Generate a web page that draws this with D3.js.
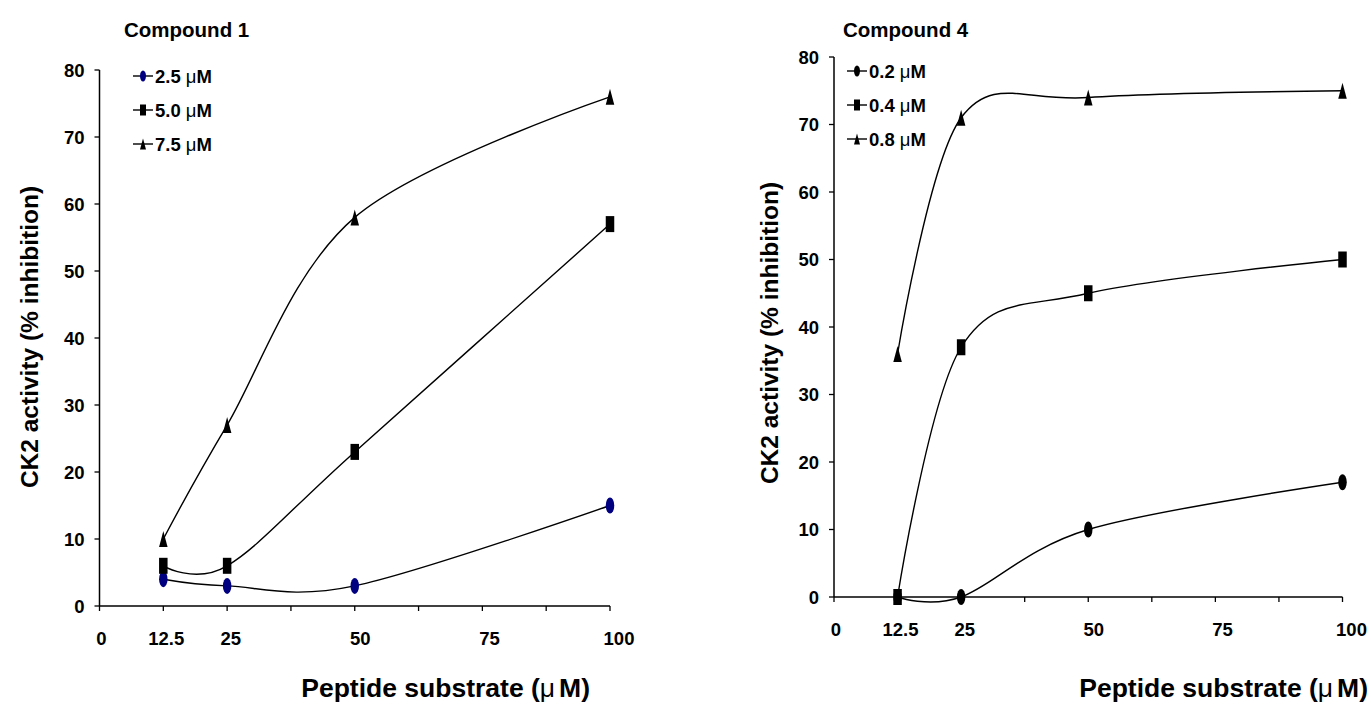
<html>
<head>
  <script src="https://d3js.org/d3.v7.min.js"></script>
  <meta charset="utf-8">
  <title>CK2 inhibition</title>
<style>
body {
  margin: 0;
  background: #fff;
}
svg {
  background: #fff;
  font-family: Arial, "Liberation Sans", sans-serif;
  font-weight: bold;
}
</style>
</head>
<body>
<script>
var width = 1371,
    height = 705;

// peptide substrate concentrations (uM)
var substrate = [12.5, 25, 50, 100];
var xTicks = [0, 12.5, 25, 37.5, 50, 62.5, 75, 87.5, 100];
var xTickLabels = [0, 12.5, 25, 50, 75, 100];
var yTicks = [0, 10, 20, 30, 40, 50, 60, 70, 80];

// compound 1, % inhibition
var c1Doses = ['2.5', '5.0', '7.5'];
var c1Dose25 = [4, 3, 3, 15];
var c1Dose50 = [6, 6, 23, 57];
var c1Dose75 = [10, 27, 58, 76];

// compound 4, % inhibition
var c4Doses = ['0.2', '0.4', '0.8'];
var c4Dose02 = [0, 0, 10, 17];
var c4Dose04 = [0, 37, 45, 50];
var c4Dose08 = [36, 71, 74, 75];

var svg = d3.select('body').append('svg')
  .attr('width', width)
  .attr('height', height);

// marker shapes, width w and height h
function marker(g, kind, w, h, color) {
  if (kind === 'ellipse') {
    g.append('ellipse').attr('rx', w / 2).attr('ry', h / 2).attr('fill', color);
  } else if (kind === 'square') {
    g.append('rect').attr('x', -w / 2).attr('y', -h / 2)
      .attr('width', w).attr('height', h).attr('fill', color);
  } else {
    g.append('path')
      .attr('d', 'M0,' + (-h / 2) + 'L' + (w / 2) + ',' + (h / 2) + 'L' + (-w / 2) + ',' + (h / 2) + 'Z')
      .attr('fill', color);
  }
}

function panel(p) {
  var x = d3.scaleLinear().domain([0, 100]).range([p.x0, p.x1]);
  // tick labels in the original sit slightly right of the ticks
  var xl = d3.scaleLinear().domain([0, 100]).range([p.x0 + 2, p.x1 + 9]);
  var y = d3.scaleLinear().domain([0, 80]).range([p.y0, p.y1]);
  var g = svg.append('g');

  // axes
  g.append('line').attr('x1', x(0)).attr('x2', x(0)).attr('y1', y(0)).attr('y2', y(80))
    .attr('stroke', '#000').attr('stroke-width', 1.5);
  g.append('line').attr('x1', x(0)).attr('x2', x(100)).attr('y1', y(0)).attr('y2', y(0))
    .attr('stroke', '#000').attr('stroke-width', 1.5);

  g.selectAll('.yt').data(yTicks).enter().append('line')
    .attr('x1', x(0) - 5).attr('x2', x(0))
    .attr('y1', function (d) { return y(d); })
    .attr('y2', function (d) { return y(d); })
    .attr('stroke', '#000').attr('stroke-width', 1.3);
  g.selectAll('.ytl').data(yTicks).enter().append('text')
    .attr('x', x(0) - 15)
    .attr('y', function (d) { return y(d); })
    .attr('dy', '0.36em')
    .attr('text-anchor', 'end')
    .style('font-size', '18.5px')
    .text(function (d) { return d; });

  g.selectAll('.xt').data(xTicks).enter().append('line')
    .attr('x1', function (d) { return x(d); })
    .attr('x2', function (d) { return x(d); })
    .attr('y1', y(0)).attr('y2', y(0) + 5)
    .attr('stroke', '#000').attr('stroke-width', 1.3);
  g.selectAll('.xtl').data(xTickLabels).enter().append('text')
    .attr('x', function (d) { return xl(d); })
    .attr('y', y(0) + 39)
    .attr('text-anchor', 'middle')
    .style('font-size', '18.5px')
    .text(function (d) { return d; });

  // titles
  g.append('text').attr('x', p.titleX).attr('y', 37)
    .style('font-size', '20.5px').text(p.title);

  g.append('text')
    .attr('transform', 'translate(' + p.yTitleX + ',' + p.yTitleY + ') rotate(-90)')
    .attr('text-anchor', 'middle')
    .style('font-size', '24.5px')
    .text('CK2 activity (% inhibition)');

  var xt = g.append('text').attr('x', p.xTitleX).attr('y', 697)
    .attr('text-anchor', 'end')
    .style('font-size', '26.5px');
  xt.append('tspan').text('Peptide substrate (');
  xt.append('tspan').style('font-weight', 'normal').text('\u03bc');
  xt.append('tspan').attr('dx', 4).text('M)');

  // series
  var line = d3.line()
    .x(function (d, i) { return x(substrate[i]); })
    .y(function (d) { return y(d); })
    .curve(d3.curveCardinal.tension(0));

  p.series.forEach(function (s) {
    g.append('path').attr('d', line(s.values))
      .attr('fill', 'none').attr('stroke', '#000').attr('stroke-width', 1.4);
  });
  p.series.forEach(function (s) {
    s.values.forEach(function (v, i) {
      var m = g.append('g').attr('transform', 'translate(' + x(substrate[i]) + ',' + y(v) + ')');
      marker(m, s.kind, 8.5, 16, s.color);
    });
  });

  // legend
  p.series.forEach(function (s, i) {
    var ly = p.legendY + i * p.legendStep;
    g.append('line').attr('x1', p.legendX).attr('x2', p.legendX + 20)
      .attr('y1', ly).attr('y2', ly).attr('stroke', '#000').attr('stroke-width', 1.4);
    var m = g.append('g').attr('transform', 'translate(' + (p.legendX + 10) + ',' + ly + ')');
    marker(m, s.kind, 6, 11, s.color);
    var t = g.append('text').attr('x', p.legendX + 22).attr('y', ly).attr('dy', '0.36em')
      .style('font-size', '18.5px');
    t.append('tspan').text(s.label + ' ');
    t.append('tspan').style('font-weight', 'normal').text('\u03bc');
    t.append('tspan').text('M');
  });
}

panel({
  x0: 99.5, x1: 610, y0: 606, y1: 70,
  title: 'Compound 1', titleX: 124,
  yTitleX: 38, yTitleY: 337,
  xTitleX: 590,
  legendX: 133, legendY: 76, legendStep: 34,
  series: [
    { label: c1Doses[0], values: c1Dose25, kind: 'ellipse', color: '#000080' },
    { label: c1Doses[1], values: c1Dose50, kind: 'square', color: '#000' },
    { label: c1Doses[2], values: c1Dose75, kind: 'triangle', color: '#000' }
  ]
});

panel({
  x0: 834, x1: 1342.5, y0: 597, y1: 57,
  title: 'Compound 4', titleX: 843,
  yTitleX: 778, yTitleY: 333,
  xTitleX: 1368,
  legendX: 847, legendY: 71, legendStep: 34,
  series: [
    { label: c4Doses[0], values: c4Dose02, kind: 'ellipse', color: '#000' },
    { label: c4Doses[1], values: c4Dose04, kind: 'square', color: '#000' },
    { label: c4Doses[2], values: c4Dose08, kind: 'triangle', color: '#000' }
  ]
});
</script>
</body>
</html>
